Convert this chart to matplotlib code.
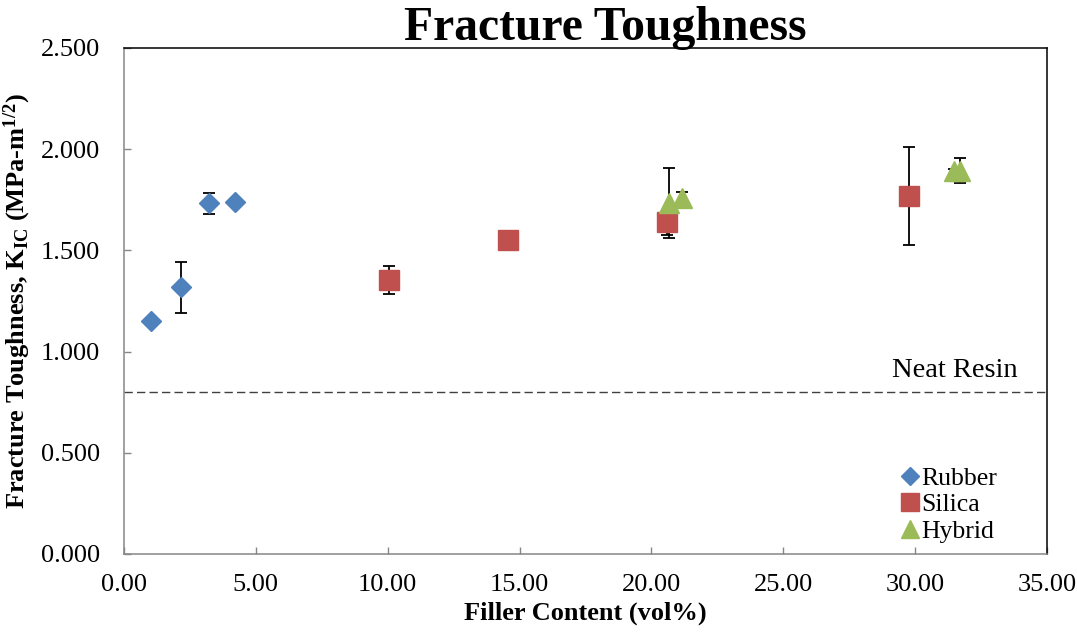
import numpy as np
import matplotlib
matplotlib.use("Agg")
import matplotlib.pyplot as plt
from matplotlib.lines import Line2D

plt.rcParams['font.family'] = ['Liberation Serif', 'DejaVu Serif']
plt.rcParams['mathtext.fontset'] = 'custom'
plt.rcParams['mathtext.rm'] = 'Liberation Serif'
plt.rcParams['mathtext.bf'] = 'Liberation Serif:bold'
plt.rcParams['mathtext.it'] = 'Liberation Serif:italic'

# 橡胶 / 二氧化硅 / 混合填料 的断裂韧性
rubber_x = [1.04, 2.17, 3.21, 4.21]
rubber_y = [1.15, 1.318, 1.733, 1.740]
rubber_err = [np.nan, 0.125, 0.051, np.nan]

silica_x = [10.04, 14.56, 20.58, 29.77]
silica_y = [1.354, 1.552, 1.639, 1.769]
silica_err = [0.071, np.nan, 0.063, 0.240]

hybrid_x = [20.68, 21.15, 31.47, 31.70]
hybrid_y = [1.734, 1.759, 1.890, 1.894]
hybrid_err = [0.175, 0.030, 0.012, 0.063]

neat_resin = 0.80

blue = '#4F81BD'
red = '#C0504D'
green = '#9BBB59'
grey = '#868686'

fig = plt.figure(figsize=(10.77, 6.34), dpi=100)
ax = fig.add_axes([124 / 1077, 1 - 554 / 634, 923 / 1077, 506 / 634])

# 误差棒
for xs, ys, es in [(rubber_x, rubber_y, rubber_err),
                   (silica_x, silica_y, silica_err),
                   (hybrid_x, hybrid_y, hybrid_err)]:
    ax.errorbar(xs, ys, yerr=es, fmt='none', ecolor='black',
                elinewidth=1.3, capsize=4.5, capthick=1.3, zorder=2)

# 散点
ax.plot(rubber_x, rubber_y, 'D', color=blue, ms=10, mec=blue, zorder=3)
ax.plot(silica_x, silica_y, 's', color=red, ms=14, mec=red, zorder=3)
ax.plot(hybrid_x, hybrid_y, '^', color=green, ms=14, mec=green, zorder=4)

# 纯树脂基准线
ax.axhline(neat_resin, color='#404040', lw=1.0, ls=(0, (6, 3)), zorder=1)
ax.text(0.9686, 0.876, 'Neat Resin', transform=ax.get_yaxis_transform(),
        fontsize=20.5, ha='right', va='baseline')

ax.set_xlim(0, 35)
ax.set_ylim(0, 2.5)
ax.set_xticks(np.arange(0, 35.1, 5))
ax.set_yticks(np.arange(0, 2.51, 0.5))
ax.xaxis.set_major_formatter(matplotlib.ticker.FormatStrFormatter('%.2f'))
ax.yaxis.set_major_formatter(matplotlib.ticker.FormatStrFormatter('%.3f'))
ax.tick_params(axis='both', direction='in', length=5, width=1, color=grey,
               labelsize=19)
ax.tick_params(axis='x', pad=14.5)
ax.tick_params(axis='y', pad=17)

for s in ['left', 'bottom']:
    ax.spines[s].set_color(grey)
    ax.spines[s].set_linewidth(1.1)
for s in ['top', 'right']:
    ax.spines[s].set_color('black')
    ax.spines[s].set_linewidth(1.1)

ax.set_xlabel('Filler Content (vol%)', fontsize=19, fontweight='bold')
ax.xaxis.set_label_coords(0.5, -0.095)
ax.set_ylabel(r'Fracture Toughness, K$_{\mathbf{IC}}$ (MPa-m$^{\mathbf{1/2}}$)',
              fontsize=19, fontweight='bold')
ax.yaxis.set_label_coords(-0.099, 0.5)

fig.text(605.5 / 1077, 1 - 40 / 634, 'Fracture Toughness', fontsize=34.3,
         fontweight='bold', ha='center', va='baseline')

handles = [
    Line2D([], [], ls='none', marker='D', color=blue, ms=9),
    Line2D([], [], ls='none', marker='s', color=red, ms=12.5),
    Line2D([], [], ls='none', marker='^', color=green, ms=12.5),
]
ax.legend(handles, ['Rubber', 'Silica', 'Hybrid'], loc='upper left',
          bbox_to_anchor=(0.8404, 0.172), frameon=False, fontsize=18.5,
          handlelength=0.8, handletextpad=0.05, labelspacing=0.13,
          borderpad=0, borderaxespad=0)

fig.savefig('out.png', dpi=100)
